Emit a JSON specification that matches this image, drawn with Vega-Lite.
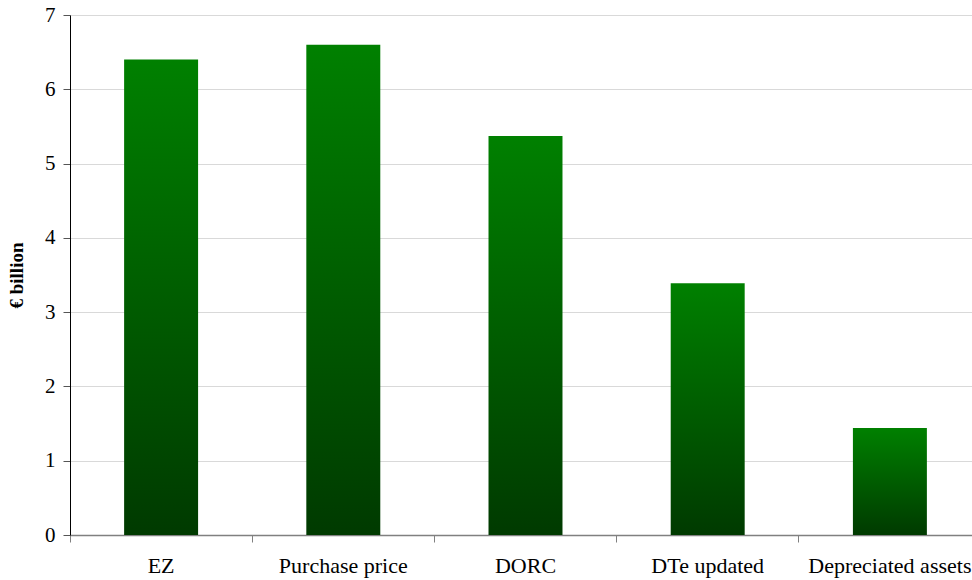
{
  "$schema": "https://vega.github.io/schema/vega-lite/v6.json",
  "autosize": "none",
  "width": 911,
  "height": 520,
  "padding": {"left": 70, "top": 15, "right": 0, "bottom": 45},
  "background": "white",
  "config": {
    "view": {"stroke": null},
    "font": "Liberation Serif"
  },
  "data": {
    "values": [
      {"category": "EZ", "value": 6.4},
      {"category": "Purchase price", "value": 6.6},
      {"category": "DORC", "value": 5.37},
      {"category": "DTe updated", "value": 3.39},
      {"category": "Depreciated assets", "value": 1.44}
    ]
  },
  "mark": {
    "type": "bar",
    "width": {"band": 0.406},
    "color": {
      "gradient": "linear",
      "x1": 0, "y1": 0, "x2": 0, "y2": 1,
      "stops": [
        {"offset": 0, "color": "#008000"},
        {"offset": 1, "color": "#003a00"}
      ]
    }
  },
  "encoding": {
    "x": {
      "field": "category",
      "type": "nominal",
      "sort": null,
      "scale": {"paddingInner": 0, "paddingOuter": 0},
      "axis": {
        "title": null,
        "labelAngle": 0,
        "bandPosition": 0,
        "labelFont": "Liberation Serif",
        "labelFontSize": 22,
        "labelColor": "#000000",
        "labelPadding": 13,
        "labelBound": false,
        "labelOverlap": false,
        "tickSize": 7,
        "tickColor": "#808080",
        "domainColor": "#808080",
        "domainWidth": 1.5,
        "grid": false
      }
    },
    "y": {
      "field": "value",
      "type": "quantitative",
      "scale": {"domain": [0, 7], "nice": false},
      "axis": {
        "title": "€ billion",
        "titleFont": "Liberation Serif",
        "titleFontSize": 19,
        "titleFontWeight": "bold",
        "titleColor": "#000000",
        "titlePadding": 18,
        "values": [0, 1, 2, 3, 4, 5, 6, 7],
        "labelFont": "Liberation Serif",
        "labelFontSize": 21,
        "labelColor": "#000000",
        "labelPadding": 8,
        "tickSize": 7,
        "tickColor": "#555555",
        "domainColor": "#000000",
        "grid": true,
        "gridColor": "#d9d9d9",
        "gridWidth": 1
      }
    }
  }
}
